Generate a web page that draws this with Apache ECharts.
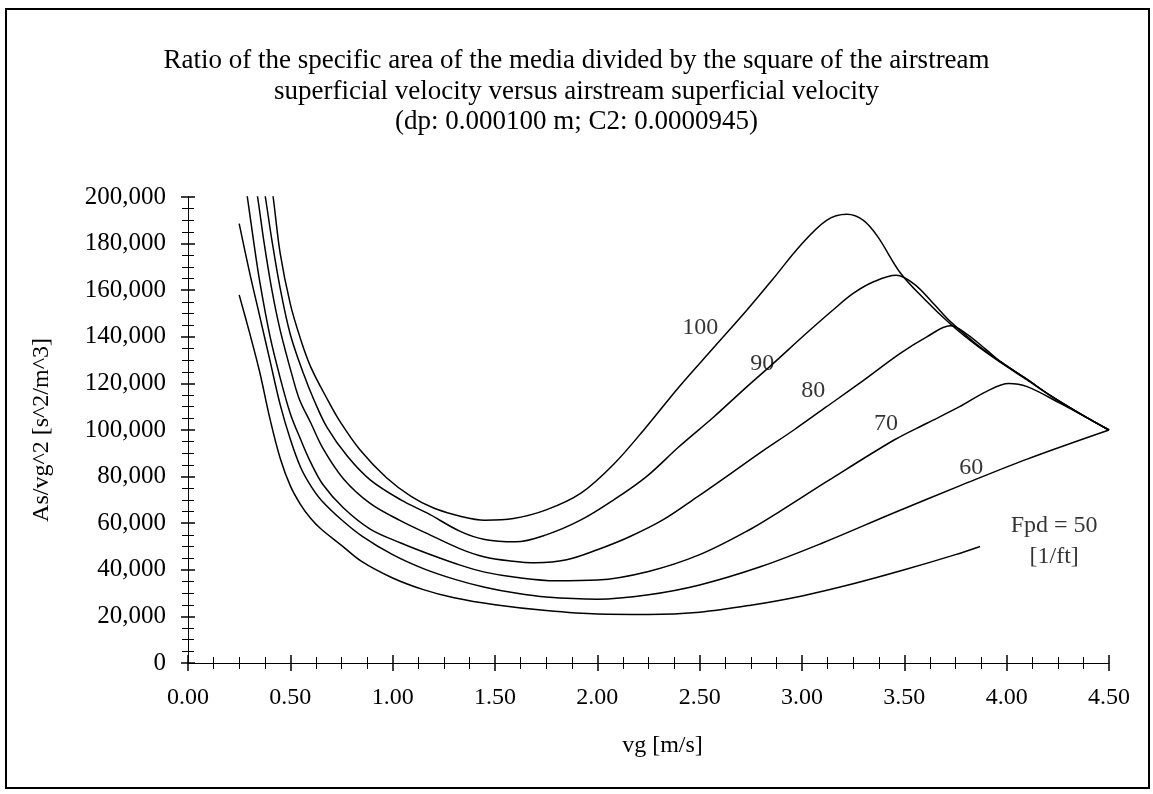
<!DOCTYPE html>
<html>
<head>
<meta charset="utf-8">
<script src="https://cdn.jsdelivr.net/npm/echarts@6/dist/echarts.min.js"></script>
<style>
  html, body { margin: 0; padding: 0; background: #fff; }
  #chart { width: 1153px; height: 794px; }
</style>
</head>
<body>
<div id="chart"></div>
<script>
// curve data (vg in m/s, As/vg^2 in s^2/m^3)
const vg50 = [0.25, 0.3, 0.35, 0.4, 0.45, 0.5, 0.55, 0.6, 0.65, 0.75, 0.85, 1.0, 1.15, 1.3, 1.5, 1.75, 2.0, 2.25, 2.5, 2.75, 3.0, 3.25, 3.5, 3.75, 3.87]
const as50 = [158000, 142000, 125000, 105000, 88000, 76000, 68000, 62000, 57500, 50500, 43500, 36500, 31500, 28000, 25000, 22500, 21000, 20800, 21800, 24800, 28800, 34000, 40000, 46500, 50000]

const vg60 = [0.25, 0.3, 0.35, 0.4, 0.45, 0.5, 0.55, 0.6, 0.65, 0.75, 0.85, 1.0, 1.15, 1.3, 1.45, 1.6, 1.75, 2.0, 2.25, 2.5, 2.8, 3.1, 3.45, 3.77, 4.1, 4.5]
const as60 = [188600, 168000, 149000, 130000, 111000, 96000, 84000, 76000, 70000, 61500, 54500, 46500, 40500, 36000, 32500, 30000, 28300, 27400, 29300, 33500, 41400, 51500, 64500, 76000, 87500, 100000]

const vg70 = [0.27, 0.29, 0.32, 0.35, 0.4, 0.45, 0.5, 0.55, 0.6, 0.66, 0.76, 0.89, 1.04, 1.17, 1.33, 1.45, 1.6, 1.8, 2.0, 2.25, 2.5, 2.75, 2.9, 3.12, 3.45, 3.61, 3.77, 3.9, 4.01, 4.1, 4.26, 4.5]
const as70 = [212000, 200000, 181400, 164000, 140500, 122500, 107000, 96000, 86000, 76500, 66500, 57500, 51500, 47000, 42000, 39000, 36800, 35300, 35600, 39300, 46500, 57500, 65500, 77800, 95700, 102900, 110000, 116500, 120000, 118600, 111500, 100000]

const vg80 = [0.31, 0.34, 0.37, 0.41, 0.45, 0.51, 0.545, 0.6, 0.66, 0.76, 0.89, 1.04, 1.17, 1.33, 1.45, 1.575, 1.7, 1.85, 2.0, 2.16, 2.32, 2.49, 2.65, 2.8, 2.96, 3.12, 3.28, 3.48, 3.61, 3.725, 3.8, 3.9, 3.97, 4.1, 4.21, 4.35, 4.5]
const as80 = [215000, 200000, 181400, 160000, 143000, 123000, 113000, 103000, 92000, 79000, 68500, 61000, 55500, 49000, 45500, 43800, 43000, 44300, 48600, 54300, 61400, 71400, 81200, 90500, 100000, 110000, 120000, 132900, 140000, 144700, 141500, 134500, 129300, 121700, 115000, 107500, 100000]

const vg90 = [0.35, 0.378, 0.41, 0.45, 0.5, 0.565, 0.615, 0.68, 0.78, 0.89, 1.04, 1.17, 1.33, 1.45, 1.6, 1.75, 1.92, 2.08, 2.24, 2.4, 2.57, 2.73, 2.86, 3.02, 3.15, 3.25, 3.35, 3.46, 3.55, 3.65, 3.725, 3.85, 3.97, 4.1, 4.21, 4.35, 4.5]
const as90 = [215000, 200000, 181400, 161000, 141000, 124000, 113000, 101000, 88600, 78600, 70000, 64300, 56500, 53000, 52000, 55000, 61400, 70000, 80000, 92900, 105700, 118500, 128600, 141400, 151400, 158600, 163600, 166400, 162500, 153500, 146500, 137000, 129300, 121700, 115000, 107500, 100000]

const vg100 = [0.39, 0.416, 0.45, 0.5, 0.55, 0.6, 0.685, 0.74, 0.84, 0.97, 1.09, 1.2, 1.33, 1.45, 1.59, 1.75, 1.92, 2.08, 2.24, 2.4, 2.57, 2.73, 2.86, 2.99, 3.12, 3.22, 3.3, 3.37, 3.48, 3.6, 3.725, 3.85, 3.97, 4.1, 4.21, 4.35, 4.5]
const as100 = [215000, 200000, 176000, 154000, 139000, 127000, 112500, 104000, 91500, 79500, 71500, 66500, 63000, 61300, 62000, 65700, 72900, 85300, 101400, 118600, 135500, 151400, 165000, 179000, 190000, 192600, 190000, 183000, 167500, 156000, 145500, 136500, 129000, 121500, 115000, 107500, 100000]

// curve labels (placed in data coordinates)
const labelText = ['100', '90', '80', '70', '60', 'Fpd = 50\n[1/ft]']
const labelVg = [2.503, 2.806, 3.055, 3.411, 3.827, 4.232]
const labelAs = [143700, 128300, 116700, 102600, 83700, 52100]

const titleText = 'Ratio of the specific area of the media divided by the square of the airstream\n' +
  'superficial velocity versus airstream superficial velocity\n' +
  '(dp: 0.000100 m; C2: 0.0000945)'

const serif = "'Liberation Serif', 'Times New Roman', serif"

function pairs (xs, ys) {
  return xs.map((x, i) => [x, ys[i]])
}

const curves = [
  [vg50, as50], [vg60, as60], [vg70, as70], [vg80, as80], [vg90, as90], [vg100, as100]
]

function xAxisOf (main) {
  return {
    type: 'value',
    min: 0,
    max: 4.5,
    interval: 0.5,
    position: 'bottom',
    axisLine: { show: true, onZero: false, lineStyle: { color: '#000', width: 1 } },
    axisTick: { show: true, inside: !main, length: 8, lineStyle: { color: '#000', width: 1.5 } },
    minorTick: { show: true, splitNumber: 4, length: 6, lineStyle: { color: '#000', width: 1 } },
    splitLine: { show: false },
    axisLabel: {
      show: main,
      margin: 23,
      color: '#000',
      fontSize: 24,
      fontFamily: serif,
      formatter: v => v.toFixed(2)
    },
    name: main ? 'vg [m/s]' : '',
    nameLocation: 'middle',
    nameGap: 71,
    nameTextStyle: { color: '#000', fontSize: 24, fontFamily: serif, padding: [0, 0, 0, 28] }
  }
}

function yAxisOf (main) {
  return {
    type: 'value',
    min: 0,
    max: 200000,
    interval: 20000,
    position: 'left',
    axisLine: { show: true, onZero: false, lineStyle: { color: '#000', width: 1 } },
    axisTick: { show: true, inside: !main, length: 7, lineStyle: { color: '#000', width: 1.5 } },
    minorTick: { show: true, splitNumber: 4, length: 6, lineStyle: { color: '#000', width: 1 } },
    splitLine: { show: false },
    axisLabel: {
      show: main,
      margin: 22,
      color: '#000',
      fontSize: 25,
      fontFamily: serif,
      formatter: v => v.toLocaleString('en-US')
    },
    name: main ? 'As/vg^2 [s^2/m^3]' : '',
    nameLocation: 'middle',
    nameGap: 134,
    nameTextStyle: { color: '#000', fontSize: 24, fontFamily: serif }
  }
}

const series = curves.map(c => ({
  type: 'line',
  xAxisIndex: 0,
  yAxisIndex: 0,
  data: pairs(c[0], c[1]),
  showSymbol: false,
  smooth: 0.35,
  clip: true,
  lineStyle: { color: '#000', width: 1.5 },
  silent: true
}))

series.push({
  type: 'scatter',
  xAxisIndex: 0,
  yAxisIndex: 0,
  symbolSize: 0,
  silent: true,
  data: labelText.map((t, i) => ({ name: t, value: [labelVg[i], labelAs[i]] })),
  label: {
    show: true,
    position: 'inside',
    formatter: p => p.name,
    color: '#000',
    fontSize: 24,
    fontFamily: serif,
    lineHeight: 31,
    align: 'center'
  }
})

const chart = echarts.init(document.getElementById('chart'), null, { renderer: 'canvas' })
chart.setOption({
  animation: false,
  backgroundColor: '#fff',
  title: {
    text: titleText,
    left: 'center',
    top: 41,
    textStyle: {
      color: '#000',
      fontSize: 27,
      fontWeight: 'normal',
      fontFamily: serif,
      lineHeight: 30.5
    }
  },
  grid: { left: 188, top: 197, width: 921, height: 466, containLabel: false },
  xAxis: [xAxisOf(true), xAxisOf(false)],
  yAxis: [yAxisOf(true), yAxisOf(false)],
  graphic: [{
    type: 'rect',
    shape: { x: 6, y: 9, width: 1143, height: 779 },
    style: { fill: 'none', stroke: '#000', lineWidth: 2 },
    silent: true
  }],
  series: series
})
</script>
</body>
</html>
